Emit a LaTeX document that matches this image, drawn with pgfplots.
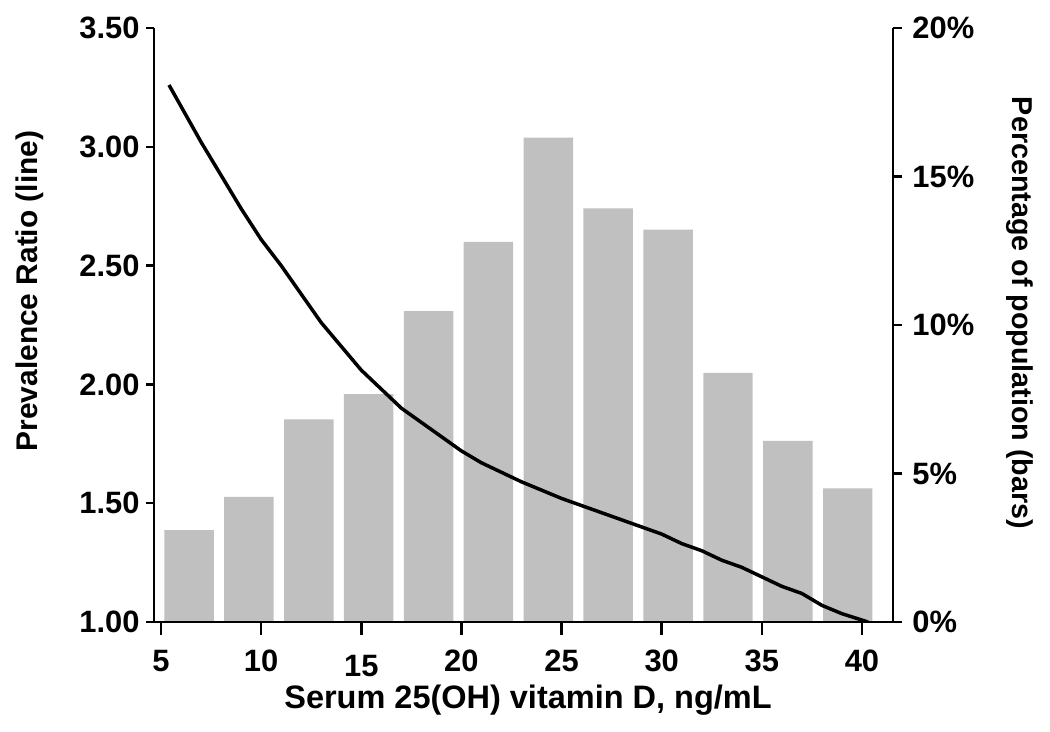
\documentclass[border=0pt]{standalone}
\usepackage{fontspec}
\setmainfont{Liberation Sans}
\usepackage{pgfplots}
\pgfplotsset{compat=1.18}
\definecolor{bargray}{RGB}{192,192,192}
\pgfplotsset{
  common/.style={
    at={(0,0)}, anchor=south west, scale only axis,
    width=369.5bp, height=297bp,
    xmin=4.65, xmax=41.55,
    axis line style={-, line width=1.25bp, black},
    tick align=outside,
    tick style={line width=1.25bp, black},
    tick label style={font=\fontsize{15.5}{18}\selectfont\bfseries},
    label style={font=\fontsize{15}{18}\selectfont\bfseries},
  }
}
\begin{document}
\begin{tikzpicture}
\path[use as bounding box] (-77bp,-55bp) rectangle (448bp,311bp);
% bars, right axis
\begin{axis}[common,
  ymin=0, ymax=20,
  axis x line=none, axis y line*=right,
  ytick={0,5,10,15,20}, yticklabels={0\%,5\%,10\%,15\%,20\%},
  major tick length=4.5bp,
  yticklabel style={inner sep=0pt, xshift=5bp},
  ylabel={Percentage of population (bars)},
  ylabel style={at={(axis description cs:1,0.5)}, rotate=180, anchor=center, yshift=63.5bp, xshift=-6bp, font=\fontsize{14.4}{17}\selectfont\bfseries},
  ybar, bar width=2.47,
]
\addplot[fill=bargray, draw=none] coordinates {
(6.40,3.09) (9.39,4.21) (12.38,6.82) (15.37,7.67) (18.36,10.47) (21.35,12.80)
(24.34,16.31) (27.33,13.93) (30.32,13.21) (33.31,8.39) (36.30,6.10) (39.29,4.50)
};
\end{axis}
% line, left axis
\begin{axis}[common,
  ymin=1, ymax=3.5,
  axis x line=none, axis y line*=left,
  ytick={1,1.5,2,2.5,3,3.5}, yticklabels={1.00,1.50,2.00,2.50,3.00,3.50},
  major tick length=4bp,
  yticklabel style={inner sep=0pt, xshift=-3bp},
  ylabel={Prevalence Ratio (line)},
  ylabel style={at={(axis description cs:0,0.5)}, anchor=center, yshift=62bp, xshift=17bp},
]
\addplot[black, line width=1.75bp] table {
5.4 3.26
6.0 3.17
7.0 3.02
8.0 2.88
9.0 2.74
10.0 2.61
11.0 2.50
12.0 2.38
13.0 2.26
14.0 2.16
15.0 2.06
16.0 1.98
17.0 1.90
18.0 1.84
19.0 1.78
20.0 1.72
21.0 1.67
22.0 1.63
23.0 1.59
24.0 1.555
25.0 1.52
26.0 1.49
27.0 1.46
28.0 1.43
29.0 1.40
30.0 1.37
31.0 1.33
32.0 1.30
33.0 1.26
34.0 1.23
35.0 1.19
36.0 1.15
37.0 1.12
38.0 1.07
39.0 1.035
40.3 1.00
};
\end{axis}
% x axis
\begin{axis}[common,
  ymin=0, ymax=1,
  axis y line=none, axis x line*=bottom,
  xtick={5,10,15,20,25,30,35,40},
  xticklabels={5,10,\raisebox{-2.5bp}[\height]{15},20,25,30,35,40},
  major tick length=6.5bp,
  xticklabel style={inner sep=0pt, yshift=-7.5bp},
  xlabel={Serum 25(OH) vitamin D, ng/mL},
  xlabel style={at={(axis description cs:0.5,0)}, anchor=north, inner sep=0pt, yshift=-31.5bp, xshift=2.25bp, font=\fontsize{16.3}{19}\selectfont\bfseries},
]
\addplot[draw=none] coordinates {(5,0.5)};
\end{axis}
\end{tikzpicture}
\end{document}
